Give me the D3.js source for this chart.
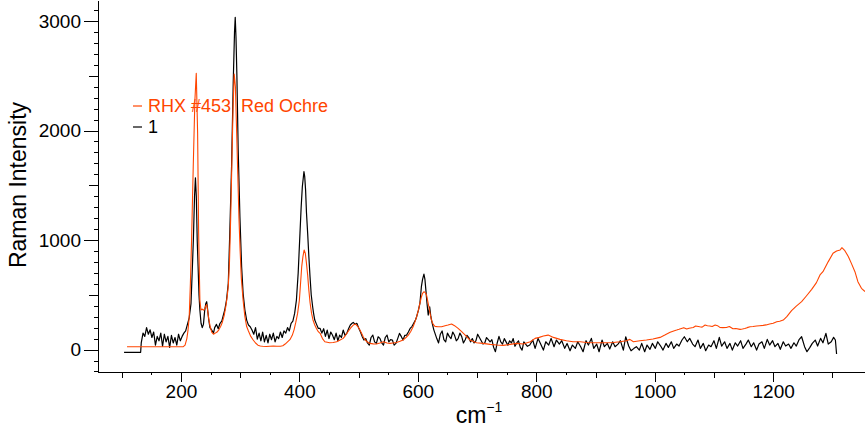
<!DOCTYPE html>
<html>
<head>
<meta charset="utf-8">
<script src="https://cdn.jsdelivr.net/npm/d3@7/dist/d3.min.js"></script>
<style>
  html, body { margin: 0; padding: 0; background: #fff; }
  svg { display: block; font-family: "Liberation Sans", Arial, sans-serif; }
</style>
</head>
<body>
<svg id="chart" width="865" height="433"></svg>
<script>
// ---------- DATA ----------
// Reference spectrum "RHX #453  Red Ochre": [wavenumber (cm-1), Raman intensity]
const referenceSpectrum = [
  [109,26],[204,26],[207,41],[210,100],[212,178],[214,300],[216,605],[218,1000],[220.8,1669],[223.6,2279],
  [225.9,2522],[228.2,1975],[229.9,1061],[232,452],[233.8,361],[236,370],[238,360],[240,370],[242,400],[243.5,410],
  [245,360],[247,280],[249,220],[252,160],[255,140],[258,150],[261,160],[264,180],[267,210],[270,250],
  [273,310],[276,400],[278,480],[280,580],[282,800],[284,1200],[286,1700],[288,2200],[290,2516],[292,2400],
  [294,2000],[296,1600],[298,1200],[300,900],[302,650],[305,450],[308,300],[311,210],[314,170],[318,120],
  [322,87],[326,60],[330,40],[334,32],[338,30],[344,28],[350,30],[356,32],[362,30],[368,30],
  [372,35],[376,50],[380,70],[384,90],[388,130],[391,180],[394,250],[397,330],[400,450],[402,605],
  [404,760],[406,848],[408,909],[410,880],[412,787],[414,680],[416,543],[418,430],[420.6,330],[423,270],
  [426,224],[429,190],[432,163],[435,148],[439,100],[443,71],[451,62],[457,65],[463,71],[468,85],
  [474,102],[478,130],[482,163],[487,200],[491,224],[495,233],[499,208],[502,180],[505,148],[508,115],
  [511,87],[515,68],[519,56],[525,52],[530,50],[536,60],[542,71],[548,60],[553,56],[558,60],
  [564,65],[570,75],[575,87],[580,110],[584,132],[588,165],[592,208],[595,250],[598,300],[601,360],
  [603.5,422],[606,480],[608,513],[610.5,528],[612.5,520],[614.7,498],[616.5,450],[618.6,391],[621,320],[623,269],
  [626,230],[629,212],[634,208],[640,208],[646,218],[651,224],[657,233],[662,218],[668,193],[674,163],
  [680,132],[688,87],[699,62],[710,56],[722,47],[733,41],[744,38],[756,47],[767,56],[778,50],
  [790,71],[798,102],[805,111],[812,123],[820,132],[829,111],[840,93],[851,81],[862,71],[874,71],
  [885,65],[896,62],[907,62],[919,62],[930,65],[941,71],[952,81],[958,93],[964,71],[975,81],
  [986,87],[997,96],[1009,111],[1017,132],[1026,157],[1032,170],[1037,178],[1041,185],[1045,193],[1049,200],
  [1054,187],[1058,195],[1065,202],[1069,215],[1076,208],[1080,205],[1085,224],[1089,218],[1093,215],[1097,210],
  [1102,224],[1106,218],[1110,202],[1115,200],[1121,202],[1126,210],[1132,190],[1137,192],[1144,184],[1148,188],
  [1152,193],[1156,200],[1161,208],[1166,210],[1172,215],[1177,218],[1183,221],[1188,225],[1194,233],[1200,240],
  [1206,254],[1211,258],[1217,269],[1223,300],[1231,355],[1239,397],[1248,437],[1256,489],[1265,550],[1273,611],
  [1279,681],[1284,711],[1293,803],[1301,879],[1307,900],[1313,909],[1316,930],[1321,903],[1327,848],[1332,787],
  [1338,711],[1343,620],[1349,559],[1355,530]
];

// Measured spectrum "1": [wavenumber (cm-1), Raman intensity]
const sampleSpectrum = [
  [104,-25],[132,-25],[133,60],[136,150],[139,120],[142,200],[145,140],[148,180],[151,110],[154,160],
  [157,40],[160,120],[163,80],[166,150],[169,30],[172,140],[175,70],[178,120],[181,20],[184,130],
  [187,60],[190,110],[193,40],[196,140],[199,80],[202,120],[205,150],[208,170],
  [211,230],[214,290],[217,420],[219,700],[221,1000],[223,1400],[224.5,1569],[226,1400],[227.5,1000],[229,760],
  [230.5,500],[232,361],[234,240],[236,200],[238,230],[240,350],[242,420],[243.5,437],[245,370],[247,270],
  [249,200],[252,178],[255,150],[257,200],[260,230],[263,190],[266,240],[269,260],[271,300],[274,361],
  [277,452],[280,605],[282.5,1064],[285.5,1669],[288.3,2431],[290.5,2900],[291.7,3034],[293,2850],[294.5,2500],[296.7,1822],
  [299.6,1213],[302.5,756],[305,513],[308,361],[311,269],[314,224],[317,208],
  [320,178],[323,140],[326,200],[329,95],[332,150],[335,80],[338,160],[341,70],[344,130],[347,60],
  [350,140],[353,90],[356,150],[359,70],[362,120],[365,100],[368,160],[371,110],[374,170],[377,150],
  [380,200],[383,170],[386,240],[389,260],[392,330],[395,452],
  [398,700],[401,1061],[403,1300],[405,1487],[407.7,1624],[409,1580],[410.5,1457],[412,1250],[414,1061],[416,850],
  [418,665],[420,500],[422.4,391],[424,330],[426,269],[429,230],[432,193],[435,193],
  [438,150],[441,190],[444,120],[447,178],[450,100],[453,160],[456,130],[459,90],[462,150],[465,80],
  [468,132],[471,110],[474,178],[477,130],[480,148],[483,190],[486,224],[489,240],[491,248],[494,230],
  [497,240],[500,200],[503,163],[506,120],[509,87],[512,100],[515,60],[518,41],[521,110],[524,132],
  [527,70],[530,56],[533,117],[536,102],[539,60],[542,41],[545,110],[548,132],[551,70],[554,90],
  [557,87],[560,40],[563,56],[566,100],[569,148],[572,120],[575,87],[578,130],[581,132],[584,160],
  [587,193],[590,210],[593,239],[596,270],[598,300],[601,360],[603.5,422],[606,574],[608,640],[610.3,689],
  [612,640],[613.6,543],[615.5,420],[617.5,315],[620,391],[622,300],[624.3,239],[627,180],
  [629,148],[632,100],[635,60],[638,140],[641,170],[644,90],[647,70],[650,150],[653,120],[656,100],
  [659,160],[662,130],[665,80],[668,100],[671,150],[674,120],[677,60],[680,90],[683,130],[686,110],
  [689,70],[692,100],[695,60],[698,80],[701,140],[704,110],[707,80],[710,50],[713,60],[716,110],
  [719,90],[722,70],[725,90],[728,20],[731,-20],[734,60],[737,120],[740,70],[743,50],[746,100],
  [749,70],[752,40],[755,80],[758,60],[761,100],[764,30],[767,60],[770,80],[773,20],[776,-5],
  [779,70],[782,50],[785,30],
  [789,41],[794,87],[798,11],[803,102],[807,56],[812,-5],[816,71],[821,41],[825,102],[830,26],
  [834,87],[839,50],[843,81],[848,11],[852,56],[857,-11],[861,41],[866,11],[870,71],[875,26],
  [879,-20],[884,81],[888,41],[893,102],[897,11],[902,50],[906,-20],[911,87],[915,26],[920,56],
  [924,5],[929,71],[933,26],[938,50],[942,81],[947,-5],[951,117],[956,32],[960,-11],[965,11],
  [969,26],[974,-5],[978,56],[983,-20],[987,41],[992,2],[996,56],[1001,11],[1005,71],[1010,32],
  [1014,-5],[1019,56],[1023,20],[1028,71],[1032,11],[1037,50],[1041,32],[1046,87],[1050,117],[1055,71],
  [1059,102],[1064,50],[1068,26],[1073,87],[1077,11],[1082,56],[1086,-11],[1091,41],[1095,26],[1100,81],
  [1104,11],[1109,111],[1113,32],[1118,71],[1122,11],[1127,56],[1131,-5],[1136,62],[1140,32],[1145,81],
  [1149,11],[1154,50],[1158,87],[1163,26],[1167,62],[1172,-5],[1176,50],[1181,71],[1185,11],[1190,93],
  [1194,41],[1199,81],[1203,26],[1208,56],[1212,2],[1217,71],[1221,32],[1226,50],[1230,11],[1235,62],
  [1239,32],[1244,93],[1248,117],[1253,26],[1257,-20],[1262,20],[1266,56],[1271,87],[1275,32],[1280,102],
  [1284,62],[1289,148],[1293,50],[1298,71],[1302,111],[1305,87],[1307,-41]
];

const seriesNames = ["RHX #453  Red Ochre", "1"];
const seriesColors = ["#ff4500", "#000000"];

// axis ticks
const xLabelTicks = [200, 400, 600, 800, 1000, 1200];
const xMediumTicks = [100, 300, 500, 700, 900, 1100, 1300];
const xMinorTicks = [150, 250, 350, 450, 550, 650, 750, 850, 950, 1050, 1150, 1250];
const yLabelTicks = [0, 1000, 2000, 3000];
const yMediumTicks = [500, 1500, 2500];
const yMinorTicks = [-200, -100, 100, 200, 300, 400, 600, 700, 800, 900, 1100, 1200, 1300, 1400, 1600, 1700, 1800, 1900,
  2100, 2200, 2300, 2400, 2600, 2700, 2800, 2900, 3100];
const xDomain = [60, 1355];
const yDomain = [-205, 3192];

// ---------- CHART ----------
const svg = d3.select("#chart");
const plotLeft = 98, plotRight = 865, plotTop = 0, plotBottom = 372;

const x = d3.scaleLinear().domain(xDomain).range([plotLeft, plotRight]);
const y = d3.scaleLinear().domain(yDomain).range([plotBottom, plotTop]);

svg.append("defs").append("clipPath").attr("id", "plotclip")
  .append("rect").attr("x", plotLeft).attr("y", plotTop).attr("width", plotRight - plotLeft).attr("height", plotBottom - plotTop);

function styleAxis(g) {
  g.selectAll("path, line").attr("stroke", "#000").attr("stroke-width", 1).attr("shape-rendering", "crispEdges");
  g.selectAll("text").attr("fill", "#000").style("font-size", "19px").style("font-family", "'Liberation Sans', Arial, sans-serif");
}

// x axis
const gx = svg.append("g").attr("transform", `translate(0,${plotBottom})`);
gx.append("g").call(d3.axisBottom(x).tickValues(xMinorTicks).tickSize(3).tickFormat("")).call(g => g.select(".domain").remove()).call(styleAxis);
gx.append("g").call(d3.axisBottom(x).tickValues(xMediumTicks).tickSize(6).tickFormat("")).call(g => g.select(".domain").remove()).call(styleAxis);
gx.append("g").call(d3.axisBottom(x).tickValues(xLabelTicks).tickSize(10).tickPadding(3).tickSizeOuter(0).tickFormat(d3.format("d"))).call(styleAxis);

// y axis
const gy = svg.append("g").attr("transform", `translate(${plotLeft},0)`);
gy.append("g").call(d3.axisLeft(y).tickValues(yMinorTicks).tickSize(4).tickFormat("")).call(g => g.select(".domain").remove()).call(styleAxis);
gy.append("g").call(d3.axisLeft(y).tickValues(yMediumTicks).tickSize(9).tickFormat("")).call(g => g.select(".domain").remove()).call(styleAxis);
gy.append("g").call(d3.axisLeft(y).tickValues(yLabelTicks).tickSize(14).tickPadding(3).tickSizeOuter(0).tickFormat(d3.format("d"))).call(styleAxis);

// axis titles
svg.append("text")
  .attr("transform", `translate(26,185) rotate(-90)`)
  .attr("text-anchor", "middle")
  .attr("fill", "#000")
  .style("font-size", "23px")
  .text("Raman Intensity");

const xt = svg.append("text")
  .attr("x", 479).attr("y", 423)
  .attr("text-anchor", "middle")
  .attr("fill", "#000")
  .style("font-size", "23px");
xt.append("tspan").text("cm");
xt.append("tspan").attr("dy", -11).style("font-size", "14px").text("\u22121");

// lines
const line = d3.line().x(d => x(d[0])).y(d => y(d[1]));
const plot = svg.append("g").attr("clip-path", "url(#plotclip)");
plot.append("path").datum(sampleSpectrum)
  .attr("fill", "none").attr("stroke", seriesColors[1]).attr("stroke-width", 1.2).attr("stroke-linejoin", "round")
  .attr("d", line);
plot.append("path").datum(referenceSpectrum)
  .attr("fill", "none").attr("stroke", seriesColors[0]).attr("stroke-width", 1.1).attr("stroke-linejoin", "round")
  .attr("d", line);

// legend
const legendY = [106, 127];
seriesNames.forEach((name, i) => {
  svg.append("line")
    .attr("x1", 133).attr("x2", 142).attr("y1", legendY[i]).attr("y2", legendY[i])
    .attr("stroke", seriesColors[i]).attr("stroke-width", 1.2);
  svg.append("text")
    .attr("x", 148).attr("y", legendY[i] + 6)
    .attr("fill", seriesColors[i])
    .style("font-size", "18px")
    .style("white-space", "pre")
    .text(name);
});
</script>
</body>
</html>
